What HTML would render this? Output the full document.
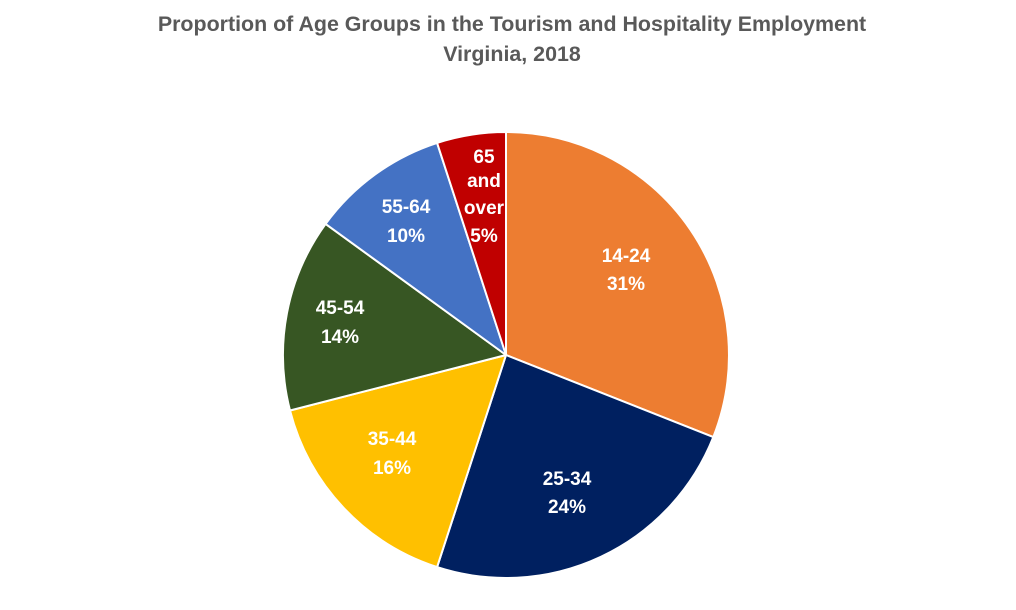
<!DOCTYPE html>
<html><head><meta charset="utf-8"><style>
html,body{margin:0;padding:0;background:#fff;width:1016px;height:610px;overflow:hidden}
</style></head><body>
<svg width="1016" height="610" xmlns="http://www.w3.org/2000/svg" font-family="Liberation Sans, sans-serif">
<text x="512" y="31" text-anchor="middle" font-size="21.4" font-weight="bold" fill="#595959">Proportion of Age Groups in the Tourism and Hospitality Employment</text>
<text x="512" y="61" text-anchor="middle" font-size="21.4" font-weight="bold" fill="#595959">Virginia, 2018</text>
<g stroke="#fff" stroke-width="2" stroke-linejoin="round">
<path d="M506,355 L506,132 A223,223 0 0,1 713.3,437.1 Z" fill="#ED7D31"/>
<path d="M506,355 L713.3,437.1 A223,223 0 0,1 437.1,567.1 Z" fill="#002060"/>
<path d="M506,355 L437.1,567.1 A223,223 0 0,1 290,410.5 Z" fill="#FFC000"/>
<path d="M506,355 L290,410.5 A223,223 0 0,1 325.6,223.9 Z" fill="#375623"/>
<path d="M506,355 L325.6,223.9 A223,223 0 0,1 437.1,142.9 Z" fill="#4472C4"/>
<path d="M506,355 L437.1,142.9 A223,223 0 0,1 506,132 Z" fill="#C00000"/>
</g>
<g fill="#fff" font-size="19" font-weight="bold" text-anchor="middle">
<text x="626" y="262">14-24</text><text x="626" y="290">31%</text>
<text x="567" y="485">25-34</text><text x="567" y="513">24%</text>
<text x="392" y="445">35-44</text><text x="392" y="474">16%</text>
<text x="340" y="314">45-54</text><text x="340" y="343">14%</text>
<text x="406" y="213">55-64</text><text x="406" y="242">10%</text>
<text x="484" y="163">65</text><text x="484" y="187">and</text><text x="484" y="214">over</text><text x="484" y="242">5%</text>
</g>
</svg>
</body></html>
